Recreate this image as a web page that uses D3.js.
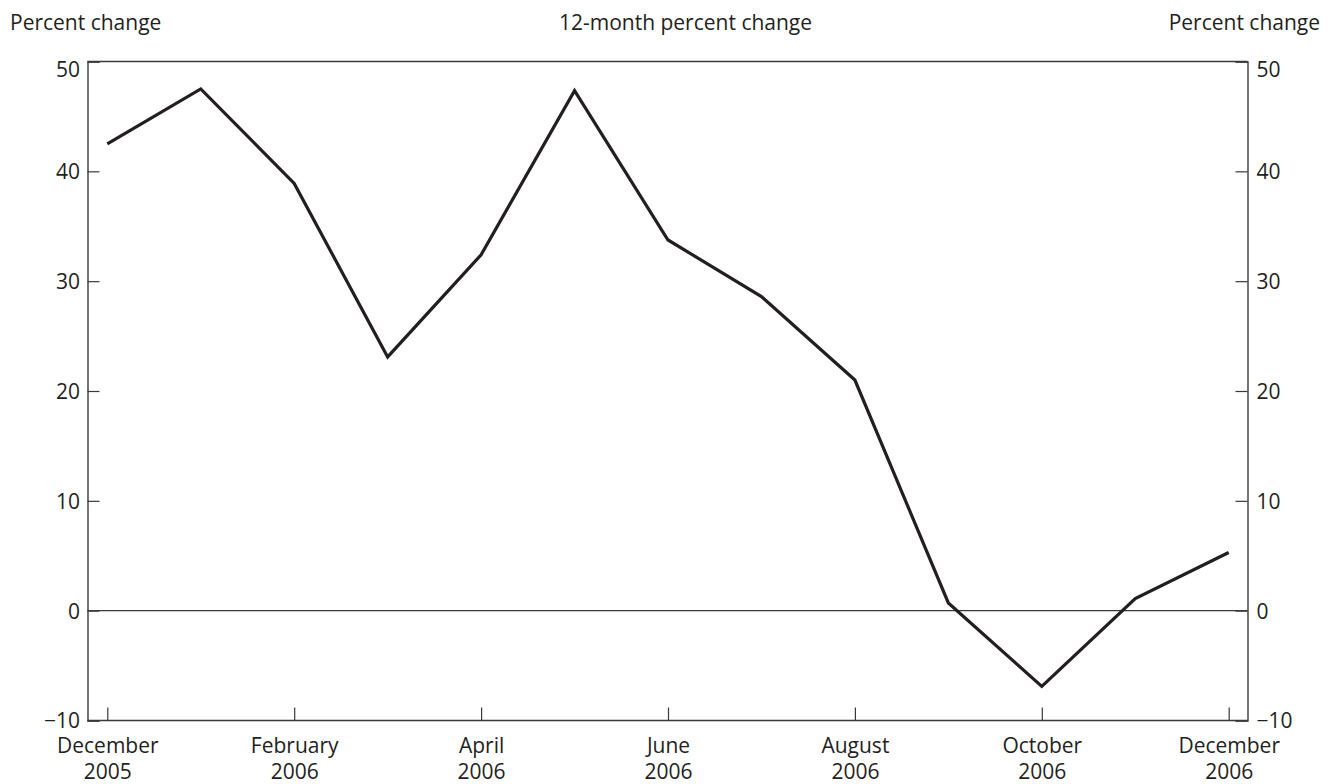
<!DOCTYPE html>
<html><head><meta charset="utf-8">
<script src="https://cdn.jsdelivr.net/npm/d3@7"></script>
<style>
html,body{margin:0;padding:0;background:#fff;}
text{font-family:"Open Sans",sans-serif;fill:#231f20;}
</style></head>
<body>
<svg id="c" width="1335" height="784"></svg>
<script>
const months = ["Dec 2005","Jan 2006","Feb 2006","Mar 2006","Apr 2006","May 2006","Jun 2006","Jul 2006","Aug 2006","Sep 2006","Oct 2006","Nov 2006","Dec 2006"];
const values = [42.5, 47.5, 38.9, 23.1, 32.4, 47.35, 33.75, 28.6, 21.0, 0.7, -6.9, 1.1, 5.3];
const xTickIndex = [0, 2, 4, 6, 8, 10, 12];
const xTickLabels = [["December","2005"],["February","2006"],["April","2006"],["June","2006"],["August","2006"],["October","2006"],["December","2006"]];
const yTicks = [-10, 0, 10, 20, 30, 40, 50];
const leftTitle = "Percent change", rightTitle = "Percent change", centerTitle = "12-month percent change";

const L = 87.5, R = 1247.5, T = 61.5, B = 720.5;
const svg = d3.select("#c");
const x = d3.scaleLinear().domain([0, 12]).range([107.3, 1228.7]);
const y = d3.scaleLinear().domain([-10, 50]).range([B, T]);
const fmt = d => d < 0 ? "\u2212" + Math.abs(d) : String(d);
const axisColor = "#3a3a3a";

// zero line
svg.append("line").attr("x1", L).attr("x2", R).attr("y1", y(0)).attr("y2", y(0))
  .attr("stroke", axisColor).attr("stroke-width", 1.2);

// left axis
const gl = svg.append("g").attr("transform", `translate(${L},0)`)
  .call(d3.axisLeft(y).tickValues(yTicks).tickSize(-12).tickPadding(0).tickFormat(fmt));
// right axis
const gr = svg.append("g").attr("transform", `translate(${R},0)`)
  .call(d3.axisRight(y).tickValues(yTicks).tickSize(-12).tickPadding(0).tickFormat(fmt));
[gl, gr].forEach(g => {
  g.select(".domain").attr("stroke", axisColor).attr("stroke-width", 1.4);
  g.selectAll(".tick line").attr("stroke", axisColor).attr("stroke-width", 1.2);
  g.selectAll(".tick text").attr("font-size", 21).attr("font-family", "Open Sans")
    .attr("fill", "#231f20").attr("dy", "0.35em");
  g.selectAll(".tick").filter(d => d === 50).select("text").attr("dy", "0.69em");
});
gl.selectAll(".tick text").attr("x", -7.5);
gr.selectAll(".tick text").attr("x", 9);

// top border
svg.append("line").attr("x1", L).attr("x2", R).attr("y1", T).attr("y2", T)
  .attr("stroke", axisColor).attr("stroke-width", 1.4);

// bottom axis
const gb = svg.append("g").attr("transform", `translate(0,${B})`)
  .call(d3.axisBottom(x).tickValues(xTickIndex).tickSize(-13).tickFormat(""));
gb.select(".domain").attr("d", `M${L},0H${R}`).attr("stroke", axisColor).attr("stroke-width", 1.4);
gb.selectAll(".tick line").attr("stroke", axisColor).attr("stroke-width", 1.2);
gb.selectAll(".tick").each(function(d, i) {
  const t = d3.select(this).append("text").attr("text-anchor", "middle")
    .attr("font-size", 21).attr("fill", "#231f20");
  t.append("tspan").attr("x", 0).attr("y", 32).text(xTickLabels[i][0]);
  t.append("tspan").attr("x", 0).attr("y", 58.6).text(xTickLabels[i][1]);
});

// line
svg.append("path").datum(values)
  .attr("fill", "none").attr("stroke", "#231f20").attr("stroke-width", 3.2)
  .attr("stroke-linejoin", "miter")
  .attr("d", d3.line().x((d, i) => x(i)).y(d => y(d)));

// titles
svg.append("text").attr("x", 10).attr("y", 30).attr("font-size", 21).text(leftTitle);
svg.append("text").attr("x", 685.5).attr("y", 30).attr("font-size", 21).attr("text-anchor", "middle").text(centerTitle);
svg.append("text").attr("x", 1320).attr("y", 30).attr("font-size", 21).attr("text-anchor", "end").text(rightTitle);
</script>
</body></html>
